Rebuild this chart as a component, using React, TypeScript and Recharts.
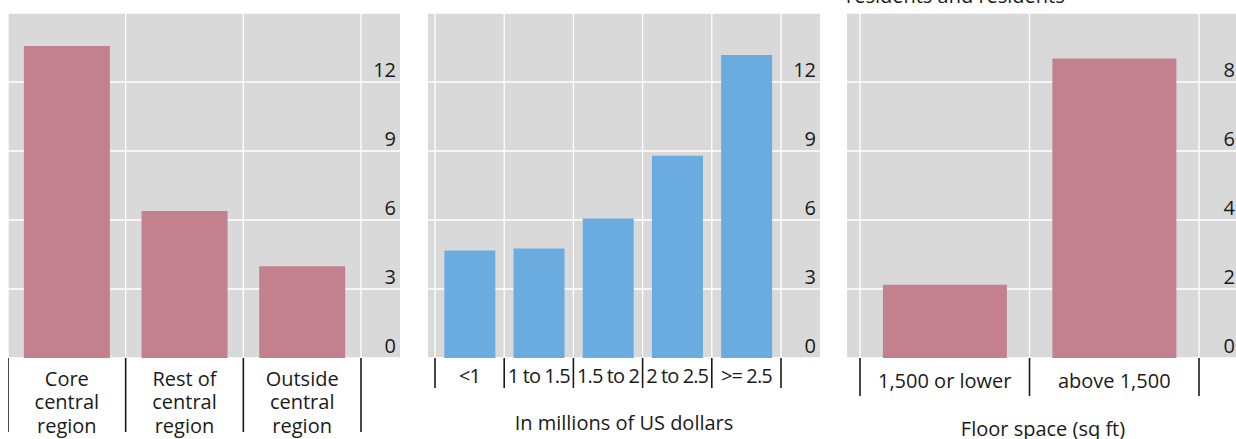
import { BarChart, Bar, XAxis, YAxis, CartesianGrid, Label } from 'recharts';

const FONT = "'Open Sans', 'Noto Sans', sans-serif";
const TEXT = '#1a1a1a';
const PINK = '#c3808f';
const BLUE = '#6aace0';
const PANEL_BG = '#d9d9d9';

// left panel: by location
const regionCategories = ['Core central region', 'Rest of central region', 'Outside central region'];
const regionValues = [13.57, 6.39, 3.99];
const regionTicks = [0, 3, 6, 9, 12];

// middle panel: by price
const priceCategories = ['<1', '1 to 1.5', '1.5 to 2', '2 to 2.5', '>= 2.5'];
const priceValues = [4.67, 4.76, 6.06, 8.79, 13.17];
const priceTicks = [0, 3, 6, 9, 12];

// right panel: by floor space
const floorCategories = ['1,500 or lower', 'above 1,500'];
const floorValues = [2.12, 8.68];
const floorTicks = [0, 2, 4, 6, 8];

const CHART_H = 439;
const PLOT_TOP = 13;
const AXIS_H = 81;

function wrapLabel(text: string, maxChars: number) {
  const words = text.split(' ');
  const lines: string[] = [];
  let cur = '';
  for (const w of words) {
    const next = cur ? `${cur} ${w}` : w;
    if (next.length > maxChars && cur) {
      lines.push(cur);
      cur = w;
    } else {
      cur = next;
    }
  }
  if (cur) lines.push(cur);
  return lines;
}

interface PanelProps {
  left: number;
  width: number;
  categories: string[];
  values: number[];
  color: string;
  domain: [number, number];
  ticks: number[];
  padLeft: number;
  padRight: number;
  wrapAt: number;
  labelDy: number;
  tickLen: number;
  labelSpacing?: number;
  title?: string;
  titleOffset?: number;
}

function Panel({
  left, width, categories, values, color, domain, ticks,
  padLeft, padRight, wrapAt, labelDy, tickLen, labelSpacing = 0, title, titleOffset = 0,
}: PanelProps) {
  const data = categories.map((name, i) => ({ name, value: values[i] }));
  const band = (width - padLeft - padRight) / categories.length;
  const boundaries = Array.from({ length: categories.length + 1 }, (_, i) => padLeft + i * band);

  const XTick = (props: any) => {
    const { x, y, payload, index } = props;
    const lines = wrapLabel(String(payload.value), wrapAt);
    const half = band / 2;
    return (
      <g>
        <line x1={x - half} x2={x - half} y1={y} y2={y + tickLen} stroke={TEXT} strokeWidth={1.6} />
        {index === categories.length - 1 && (
          <line x1={x + half} x2={x + half} y1={y} y2={y + tickLen} stroke={TEXT} strokeWidth={1.6} />
        )}
        <text
          x={x} y={y + labelDy} textAnchor="middle" fill={TEXT}
          fontSize={20} fontFamily={FONT} letterSpacing={labelSpacing}
        >
          {lines.map((l, i) => (
            <tspan key={i} x={x} dy={i === 0 ? 0 : 23.3}>{l}</tspan>
          ))}
        </text>
      </g>
    );
  };

  // value labels sit inside the panel, right-aligned, just above each gridline
  const YTick = (props: any) => {
    const { y, payload } = props;
    return (
      <text x={width - 4} y={y - 5} textAnchor="end" fill={TEXT} fontSize={20} fontFamily={FONT}>
        {payload.value}
      </text>
    );
  };

  return (
    <div style={{ position: 'absolute', left, top: 0 }}>
      <BarChart
        width={width}
        height={CHART_H}
        data={data}
        margin={{ top: PLOT_TOP, right: 0, bottom: 0, left: 0 }}
        barCategoryGap="13.5%"
      >
        <CartesianGrid
          fill={PANEL_BG}
          fillOpacity={1}
          stroke="#ffffff"
          strokeWidth={1.3}
          verticalPoints={boundaries}
        />
        <XAxis
          dataKey="name"
          height={AXIS_H}
          padding={{ left: padLeft, right: padRight }}
          axisLine={false}
          tickLine={false}
          tickSize={0}
          tickMargin={0}
          interval={0}
          tick={XTick}
        >
          {title && (
            <Label
              value={title}
              position="insideBottom"
              offset={titleOffset}
              fill={TEXT}
              fontSize={20}
              fontFamily={FONT}
            />
          )}
        </XAxis>
        <YAxis
          orientation="right"
          mirror
          domain={domain}
          ticks={ticks}
          axisLine={false}
          tickLine={false}
          tickSize={0}
          tickMargin={0}
          tick={YTick}
        />
        <Bar dataKey="value" fill={color} isAnimationActive={false} />
      </BarChart>
    </div>
  );
}

export default function App() {
  return (
    <div
      style={{
        position: 'fixed', left: 0, top: 0, width: 1236, height: 439,
        overflow: 'hidden', background: '#ffffff', fontFamily: FONT,
      }}
    >
      <svg style={{ position: 'absolute', left: 846, top: 0 }} width={390} height={12}>
        <text x={0} y={2.7} fill={TEXT} fontSize={20} fontFamily={FONT}>residents and residents</text>
      </svg>
      <Panel
        left={8} width={392}
        categories={regionCategories} values={regionValues} color={PINK}
        domain={[0, 15]} ticks={regionTicks}
        padLeft={0} padRight={39} wrapAt={7} labelDy={28} tickLen={74}
      />
      <Panel
        left={428} width={392}
        categories={priceCategories} values={priceValues} color={BLUE}
        domain={[0, 15]} ticks={priceTicks}
        padLeft={7} padRight={39} wrapAt={40} labelDy={25.3} tickLen={30} labelSpacing={-0.9}
        title="In millions of US dollars" titleOffset={9}
      />
      <Panel
        left={847} width={392}
        categories={floorCategories} values={floorValues} color={PINK}
        domain={[0, 10]} ticks={floorTicks}
        padLeft={13} padRight={40} wrapAt={40} labelDy={29.7} tickLen={38}
        title="Floor space (sq ft)" titleOffset={3}
      />
    </div>
  );
}
